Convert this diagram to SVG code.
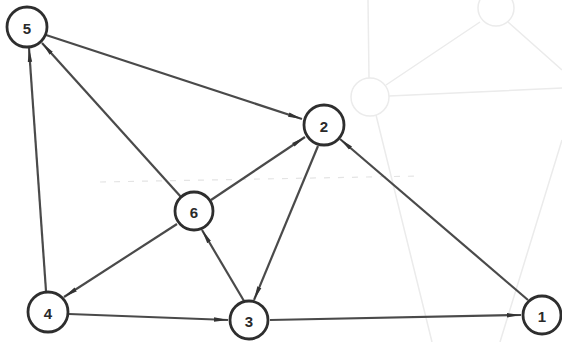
<svg xmlns="http://www.w3.org/2000/svg" width="562" height="342" viewBox="0 0 562 342">
<defs>
<style>
.ghost{stroke:#ebebeb;stroke-width:1.5;fill:none}
.edge{stroke:#4a4a4a;stroke-width:2.2;fill:none;marker-end:url(#arr)}
.node circle{fill:#fff;stroke:#2e2e2e;stroke-width:2.8}
.node text{font-family:"Liberation Sans",Arial,sans-serif;font-weight:bold;font-size:15px;fill:#2a2a2a;text-anchor:middle;dominant-baseline:central}
</style>
<marker id="arr" viewBox="0 0 14 6" refX="14" refY="3" markerWidth="14" markerHeight="6" markerUnits="userSpaceOnUse" orient="auto">
<path d="M0,0.8 L14,3 L0,5.2 Z" fill="#333"/>
</marker>
</defs>
<rect width="562" height="342" fill="#fff"/>
<g id="background">
<circle class="ghost" cx="496" cy="8" r="18"/>
<circle class="ghost" cx="370" cy="97" r="19"/>
<path class="ghost" d="M369,78 L368,0 M386,85 L480,22 M389,96 L562,88 M508,22 L562,70 M376,115 L432,342 M562,140 L500,342"/>
<path d="M100,182 L420,176" stroke="#e4e4e4" stroke-width="1.2" stroke-dasharray="6 8" fill="none"/>
</g>
<g id="connectors">
<path class="edge" d="M46,35 L302,119"/>
<path class="edge" d="M181,197 L42,43"/>
<path class="edge" d="M211,200 L305,137"/>
<path class="edge" d="M177,224 L64,297"/>
<path class="edge" d="M46,291 L29,48"/>
<path class="edge" d="M69,314 L228,320"/>
<path class="edge" d="M244,301 L202,230"/>
<path class="edge" d="M318,146 L254,300"/>
<path class="edge" d="M270,320 L521,315"/>
<path class="edge" d="M528,300 L340,139"/>
</g>
<g id="node-5" class="node"><circle cx="27" cy="27" r="20"/><text x="27" y="28">5</text></g>
<g id="node-2" class="node"><circle cx="324" cy="125" r="20"/><text x="324" y="126">2</text></g>
<g id="node-6" class="node"><circle cx="194" cy="211" r="19"/><text x="194" y="212">6</text></g>
<g id="node-4" class="node"><circle cx="48" cy="312" r="20"/><text x="48" y="313">4</text></g>
<g id="node-3" class="node"><circle cx="249" cy="320" r="19"/><text x="249" y="321">3</text></g>
<g id="node-1" class="node"><circle cx="542" cy="315" r="19"/><text x="542" y="316">1</text></g>
</svg>
